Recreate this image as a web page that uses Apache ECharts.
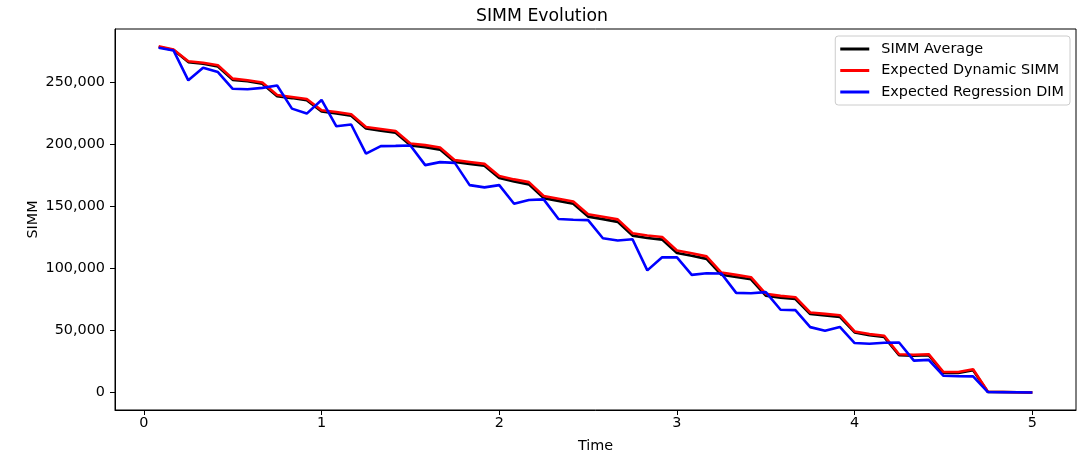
<!DOCTYPE html>
<html>
<head>
<meta charset="utf-8">
<script src="https://cdn.jsdelivr.net/npm/echarts@6/dist/echarts.min.js"></script>
<style>
html,body{margin:0;padding:0;background:#fff;}
#chart{width:1084px;height:455px;}
</style>
</head>
<body>
<div id="chart"></div>
<script>
const times = [0.0833,0.1667,0.25,0.3333,0.4167,0.5,0.5833,0.6667,0.75,0.8333,0.9167,1.0,
1.0833,1.1667,1.25,1.3333,1.4167,1.5,1.5833,1.6667,1.75,1.8333,1.9167,2.0,
2.0833,2.1667,2.25,2.3333,2.4167,2.5,2.5833,2.6667,2.75,2.8333,2.9167,3.0,
3.0833,3.1667,3.25,3.3333,3.4167,3.5,3.5833,3.6667,3.75,3.8333,3.9167,4.0,
4.0833,4.1667,4.25,4.3333,4.4167,4.5,4.5833,4.6667,4.75,4.8333,4.9167,5.0];

const simmAverage = [278500,276000,266300,265000,262800,252000,250800,248800,238800,237300,235500,226500,
225000,223000,212800,211000,209400,199200,197800,195800,185800,184300,182800,173000,
170200,167800,156700,154500,152200,141800,139800,137600,126500,124600,123300,112500,
110300,107800,95000,93200,91300,78200,76600,75400,63400,62300,61000,48500,
46300,44800,30200,29800,30200,15800,15800,18000,600,500,300,100];

const expectedDynamicSimm = [279000,276500,267000,265800,263700,253000,251600,249800,239800,238200,236600,227500,
226100,224300,214000,212400,210800,200700,199400,197500,187300,185800,184300,174600,
171800,169600,158400,156200,154000,143700,141700,139600,128400,126600,125400,114600,
112300,109800,96800,94900,93000,79600,78000,76900,64600,63500,62400,49300,
47200,45800,31000,30500,31000,16600,16600,18900,800,600,400,200];

const expectedRegressionDim = [277800,275700,251600,261800,258300,244800,244400,245500,247400,228800,224800,235800,
214600,216000,192500,198600,198800,199100,183300,185700,185100,167200,165400,167200,
152200,155200,155700,139900,139300,139000,124400,122600,123600,98500,109100,109000,
94900,96200,96000,80400,80100,81000,66800,66500,52800,49800,53000,40000,
39400,40200,40400,25800,26400,13600,13200,13100,500,400,300,100];

const xTicks = [0,1,2,3,4,5];
const yTicks = [0,50000,100000,150000,200000,250000];

function pairs(vals){ return times.map((t,i)=>[t, vals[i]]); }

const font = 'DejaVu Sans';
const fs = 14.4;
const chart = echarts.init(document.getElementById('chart'), null, {renderer:'canvas'});
chart.setOption({
  animation:false,
  backgroundColor:'#fff',
  title:{text:'SIMM Evolution', left:'center', top:3,
    textStyle:{fontFamily:font, fontSize:17.3, fontWeight:'normal', color:'#000'}},
  grid:{left:115, right:8, top:29, bottom:45, show:true, borderColor:'#000', borderWidth:1,
    backgroundColor:'transparent', outerBoundsMode:'none', containLabel:false},
  legend:{
    orient:'vertical', right:14, top:36,
    backgroundColor:'#fff', borderColor:'#cccccc', borderWidth:1, borderRadius:3,
    padding:[6,6,6,5], itemGap:7.5, itemWidth:29, itemHeight:3, icon:'rect',
    textStyle:{fontFamily:font, fontSize:fs, color:'#000', padding:[0,0,0,7]},
    data:['SIMM Average','Expected Dynamic SIMM','Expected Regression DIM']
  },
  xAxis:{
    type:'value', min:-0.1625, max:5.2458,
    name:'Time', nameLocation:'middle', nameGap:29, nameMoveOverlap:false,
    nameTextStyle:{fontFamily:font, fontSize:fs, color:'#000'},
    axisLine:{show:true, onZero:false, lineStyle:{color:'#000', width:1}},
    axisTick:{show:true, length:5, lineStyle:{color:'#000'}, customValues:xTicks},
    axisLabel:{fontFamily:font, fontSize:fs, color:'#000', margin:6, customValues:xTicks,
      formatter:v=>String(v)},
    splitLine:{show:false}
  },
  yAxis:{
    type:'value', min:-13950, max:292950,
    name:'SIMM', nameLocation:'middle', nameGap:75, nameRotate:90, nameMoveOverlap:false,
    nameTextStyle:{fontFamily:font, fontSize:fs, color:'#000'},
    axisLine:{show:true, onZero:false, lineStyle:{color:'#000', width:1}},
    axisTick:{show:true, length:5, lineStyle:{color:'#000'}, customValues:yTicks},
    axisLabel:{fontFamily:font, fontSize:fs, color:'#000', margin:10, customValues:yTicks,
      formatter:v=>Number(v).toLocaleString('en-US')},
    splitLine:{show:false}
  },
  series:[
    {name:'SIMM Average', type:'line', data:pairs(simmAverage), symbol:'none', showSymbol:false,
      lineStyle:{color:'#000000', width:2.6}, itemStyle:{color:'#000000'}, z:2},
    {name:'Expected Dynamic SIMM', type:'line', data:pairs(expectedDynamicSimm), symbol:'none', showSymbol:false,
      lineStyle:{color:'#ff0000', width:2.6}, itemStyle:{color:'#ff0000'}, z:3},
    {name:'Expected Regression DIM', type:'line', data:pairs(expectedRegressionDim), symbol:'none', showSymbol:false,
      lineStyle:{color:'#0000ff', width:2.6}, itemStyle:{color:'#0000ff'}, z:4}
  ]
});
</script>
</body>
</html>
